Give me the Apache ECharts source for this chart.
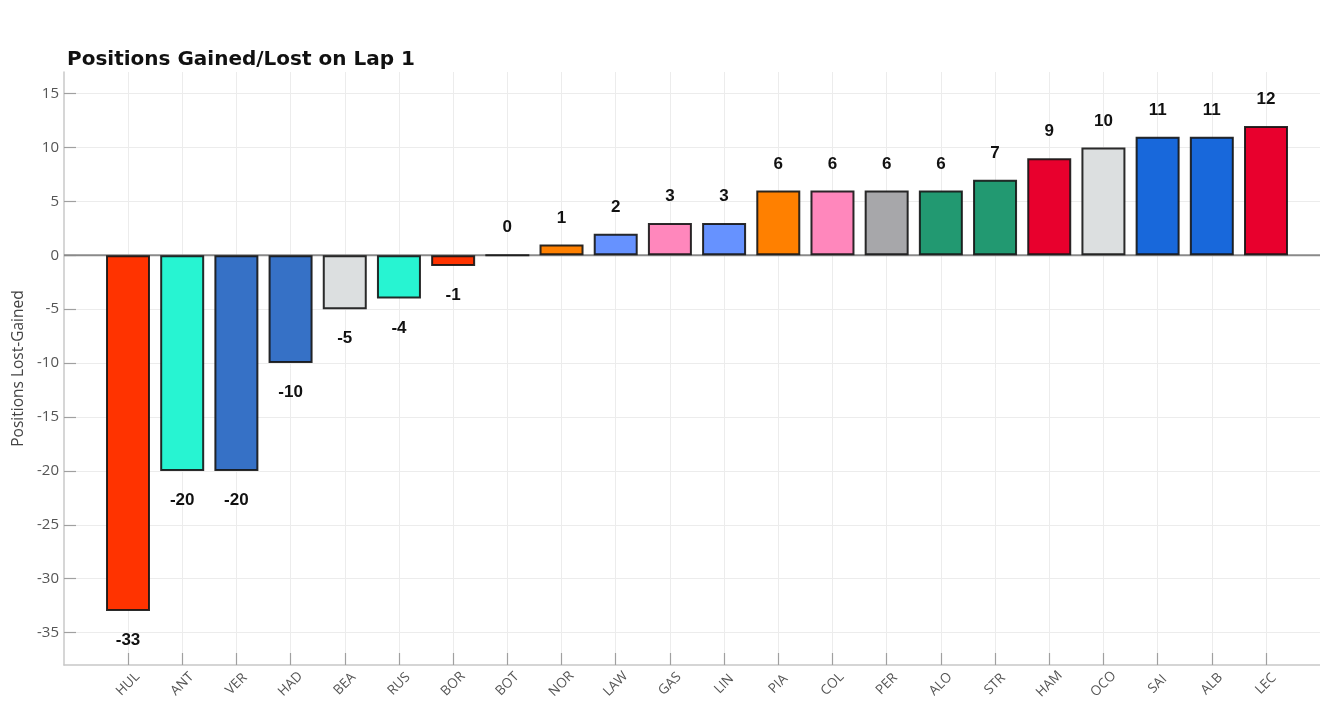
<!DOCTYPE html>
<html><head><meta charset="utf-8">
<script src="https://cdn.jsdelivr.net/npm/echarts@6/dist/echarts.min.js"></script>
<style>html,body{margin:0;padding:0;background:#fff}#c{width:1320px;height:709px}</style>
</head><body><div id="c"></div>
<script>
const drivers = ['HUL','ANT','VER','HAD','BEA','RUS','BOR','BOT','NOR','LAW','GAS','LIN','PIA','COL','PER','ALO','STR','HAM','OCO','SAI','ALB','LEC'];
const values = [-33,-20,-20,-10,-5,-4,-1,0,1,2,3,3,6,6,6,6,7,9,10,11,11,12];
const colors = ['#FF3300','#27F4D2','#3671C6','#3671C6','#DCDFE0','#27F4D2','#FF3300','#909090','#FF8000','#6692FF','#FF87BC','#6692FF','#FF8000','#FF87BC','#A7A7AA','#229971','#229971','#E8002D','#DCDFE0','#1868DB','#1868DB','#E8002D'];
const yMin = -38, yMax = 17;
const zeroLine = [[0, 0], [1, 0]];

const chart = echarts.init(document.getElementById('c'), null, {renderer: 'canvas'});
const gTop = 72, gBottom = 44;
const barData = values.map((v, i) => ({
  value: v,
  itemStyle: {color: colors[i]},
  label: {position: v >= 0 ? 'top' : 'bottom', distance: v >= 0 ? 18 : 21}
}));
chart.setOption({
  animation: false,
  backgroundColor: '#fff',
  title: {
    text: 'Positions Gained/Lost on Lap 1',
    left: 62, top: 45,
    textStyle: {fontFamily: 'DejaVu Sans', fontWeight: 'bold', fontSize: 20, color: '#111'}
  },
  grid: [
    {left: 64, right: 0, top: gTop, bottom: gBottom, containLabel: false},
    {left: 128, right: 54, top: gTop, bottom: gBottom, containLabel: false}
  ],
  xAxis: [
    {gridIndex: 0, type: 'value', min: 0, max: 1, position: 'bottom',
     axisLine: {show: true, onZero: false, lineStyle: {color: '#c8c8c8', width: 1.5}},
     axisTick: {show: false}, axisLabel: {show: false}, splitLine: {show: false}},
    {gridIndex: 1, type: 'category', data: drivers, boundaryGap: false, position: 'bottom',
     axisLine: {show: false, onZero: false},
     axisTick: {show: true, inside: true, length: 12, interval: 0, lineStyle: {color: '#a0a0a0', width: 1.2}},
     axisLabel: {interval: 0, rotate: 45, margin: 19, align: 'center', verticalAlign: 'middle',
       color: '#555', fontFamily: 'Open Sans', fontSize: 13.5},
     splitLine: {show: true, interval: 0, lineStyle: {color: '#ececec', width: 1}}}
  ],
  yAxis: [
    {gridIndex: 0, type: 'value', min: yMin, max: yMax, splitNumber: 11, minInterval: 5, maxInterval: 5,
     name: 'Positions Lost-Gained', nameLocation: 'middle', nameGap: 29,
     nameTextStyle: {color: '#444', fontFamily: 'Open Sans', fontSize: 15.5},
     axisLine: {show: true, lineStyle: {color: '#c8c8c8', width: 1.5}},
     axisTick: {show: true, inside: true, length: 12, lineStyle: {color: '#a0a0a0', width: 1.2}},
     axisLabel: {color: '#555', fontFamily: 'Open Sans', fontSize: 15, margin: 5,
       showMinLabel: false, showMaxLabel: false,
       formatter: v => (v % 5 === 0 ? String(v) : '')},
     splitLine: {show: true, showMinLine: false, showMaxLine: false, lineStyle: {color: '#ececec', width: 1}}},
    {gridIndex: 1, type: 'value', min: yMin, max: yMax,
     axisLine: {show: false}, axisTick: {show: false}, axisLabel: {show: false}, splitLine: {show: false}}
  ],
  series: [
    {type: 'line', xAxisIndex: 0, yAxisIndex: 0, data: zeroLine, symbol: 'none', z: 1,
     lineStyle: {color: '#8a8a8a', width: 2}, silent: true},
    {type: 'bar', xAxisIndex: 1, yAxisIndex: 1, data: barData, barWidth: 44, clip: false, z: 3,
     itemStyle: {borderColor: 'rgba(20,20,20,0.9)', borderWidth: 2},
     label: {show: true, color: '#111', fontFamily: 'Liberation Sans', fontWeight: 'bold', fontSize: 17}}
  ]
});
</script>
</body></html>
